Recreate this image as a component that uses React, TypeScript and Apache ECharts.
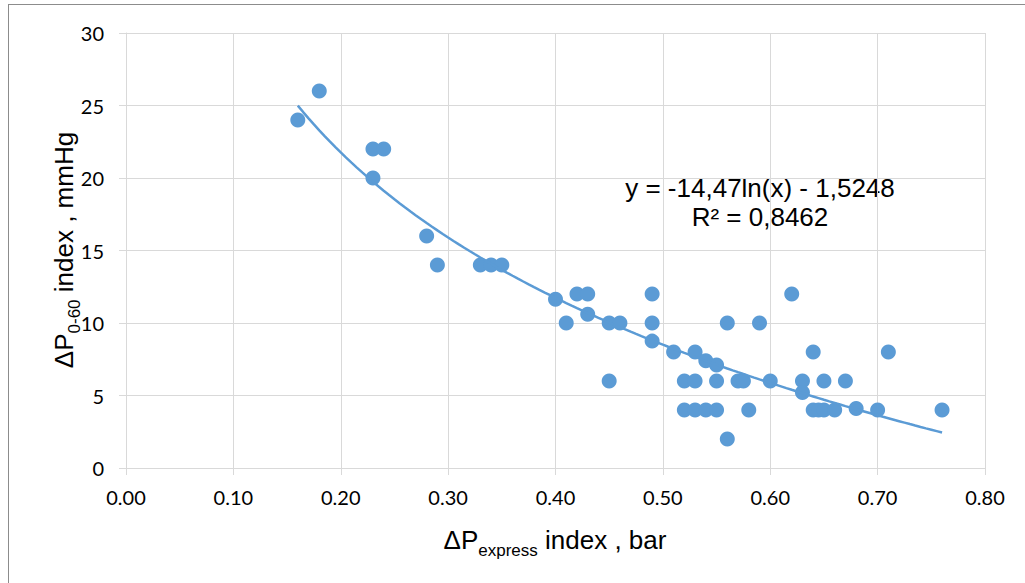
import React, { useEffect, useRef } from "react";
import * as echarts from "echarts";

const pressureExpress: number[] = [
  0.16, 0.18, 0.23, 0.24, 0.23, 0.28, 0.29, 0.33, 0.34, 0.35,
  0.40, 0.41, 0.42, 0.43, 0.43, 0.45, 0.46, 0.45,
  0.49, 0.49, 0.49, 0.51, 0.52, 0.52, 0.53, 0.53, 0.53,
  0.54, 0.54, 0.55, 0.55, 0.55, 0.56, 0.56, 0.57, 0.575, 0.58, 0.59, 0.60,
  0.62, 0.63, 0.63, 0.64, 0.64, 0.645, 0.65, 0.65, 0.66, 0.67, 0.68, 0.70, 0.71, 0.76,
];
const pressure060: number[] = [
  24, 26, 22, 22, 20, 16, 14, 14, 14, 14,
  11.63, 10, 12, 12, 10.6, 10, 10, 6,
  12, 10, 8.75, 8, 6, 4, 8, 6, 4,
  7.4, 4, 7.1, 6, 4, 10, 2, 6, 6, 4, 10, 6,
  12, 6, 5.2, 8, 4, 4, 6, 4, 4, 6, 4.1, 4, 8, 4,
];

// Trendline as stated on the chart: y = a*ln(x) + b
const trendCoefs = [-14.47, -1.5248];
const trendRange = [0.16, 0.76];
const trendLabels = ["y = -14,47ln(x) - 1,5248", "R² = 0,8462"];

const xTicks = { min: 0, max: 0.8, interval: 0.1 };
const yTicks = { min: 0, max: 30, interval: 5 };

const BLUE = "#5B9BD5";
const GRID = "#D9D9D9";

export default function App() {
  const ref = useRef<HTMLDivElement>(null);
  useEffect(() => {
    if (!ref.current) return;
    const chart = echarts.init(ref.current, null, { renderer: "svg" });
    const scatter = pressureExpress.map((x, i) => [x, pressure060[i]]);
    const trend: number[][] = [];
    const steps = 120;
    for (let i = 0; i <= steps; i++) {
      const x = trendRange[0] + ((trendRange[1] - trendRange[0]) * i) / steps;
      trend.push([x, trendCoefs[0] * Math.log(x) + trendCoefs[1]]);
    }
    const tickFont = { fontFamily: "Lato", fontSize: 20, color: "#000" };
    const titleRich = {
      n: { fontFamily: "Liberation Sans", fontSize: 26, color: "#000", lineHeight: 30, verticalAlign: "bottom" },
      s: { fontFamily: "Liberation Sans", fontSize: 17, color: "#000", lineHeight: 20, verticalAlign: "bottom", padding: [0, 0, -6, 0] },
    };
    chart.setOption({
      animation: false,
      backgroundColor: "#fff",
      grid: { left: 126, right: 40, top: 33, bottom: 115 },
      xAxis: {
        type: "value",
        min: xTicks.min,
        max: xTicks.max,
        interval: xTicks.interval,
        axisLine: { show: true, lineStyle: { color: GRID, width: 1 } },
        axisTick: { show: true, length: 7, lineStyle: { color: GRID } },
        splitLine: { show: true, lineStyle: { color: GRID, width: 1 } },
        axisLabel: { ...tickFont, margin: 19, formatter: (v: number) => v.toFixed(2) },
      },
      yAxis: {
        type: "value",
        min: yTicks.min,
        max: yTicks.max,
        interval: yTicks.interval,
        axisLine: { show: true, lineStyle: { color: GRID, width: 1 } },
        axisTick: { show: true, length: 7, lineStyle: { color: GRID } },
        splitLine: { show: true, lineStyle: { color: GRID, width: 1 } },
        axisLabel: { ...tickFont, margin: 22 },
      },
      series: [
        {
          type: "scatter",
          data: scatter,
          symbol: "circle",
          symbolSize: 15,
          itemStyle: { color: BLUE, opacity: 1 },
          z: 2,
        },
        {
          type: "line",
          data: trend,
          showSymbol: false,
          symbol: "none",
          smooth: false,
          lineStyle: { color: BLUE, width: 2.5 },
          z: 3,
        },
      ],
      graphic: [
        { type: "line", shape: { x1: 8, y1: 4.5, x2: 1025, y2: 4.5 }, style: { stroke: "#8C8C8C", lineWidth: 1 } },
        { type: "line", shape: { x1: 8.5, y1: 4, x2: 8.5, y2: 583 }, style: { stroke: "#8C8C8C", lineWidth: 1 } },
        {
          type: "text",
          x: 760,
          y: 188,
          style: { text: trendLabels[0], fontFamily: "Liberation Sans", fontSize: 26, fill: "#000", align: "center", verticalAlign: "middle" },
        },
        {
          type: "text",
          x: 760,
          y: 217,
          style: { text: trendLabels[1], fontFamily: "Liberation Sans", fontSize: 26, fill: "#000", align: "center", verticalAlign: "middle" },
        },
        {
          type: "text",
          x: 555,
          y: 538,
          style: {
            text: "{n|ΔP}{s|express}{n| index , bar}",
            rich: titleRich,
            align: "center",
            verticalAlign: "middle",
          },
        },
        {
          type: "text",
          x: 62,
          y: 250,
          rotation: Math.PI / 2,
          style: {
            text: "{n|ΔP}{s|0-60}{n| index , mmHg}",
            rich: titleRich,
            align: "center",
            verticalAlign: "middle",
          },
        },
      ],
    });
    return () => chart.dispose();
  }, []);
  return (
    <div
      ref={ref}
      style={{ position: "fixed", left: 0, top: 0, width: 1025, height: 583, background: "#fff" }}
    />
  );
}
